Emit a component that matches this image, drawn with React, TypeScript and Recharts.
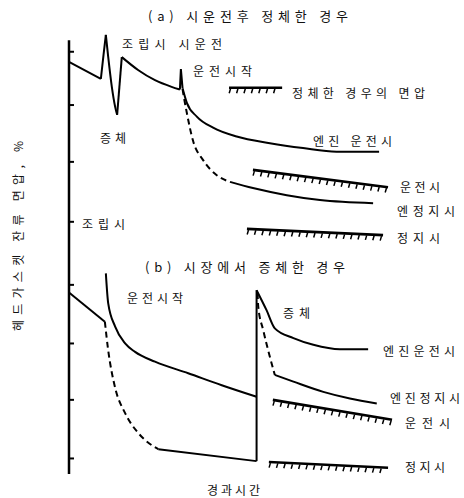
import { Line, LineChart, ReferenceLine, XAxis, YAxis } from "recharts";

// elapsed time (0-100) vs residual surface pressure (0-100), one axis shared by both panels

// (a) re-tightened after the test run
const aAssembled = [[0, 92.8], [9.6, 89.0]];
const aRetightRise = [[9.6, 89.0], [10.4, 94.4], [11.1, 98.9]];
const aRetightDrop = [[11.1, 98.9], [11.8, 94.0], [12.9, 87.2], [13.9, 82.7], [14.5, 80.9]];
const aRetighten = [[14.5, 80.9], [15.9, 93.9]];
const aSettle = [[15.9, 93.9], [20.8, 91.0], [25.9, 88.7], [30.9, 87.2], [33.4, 86.6]];
const aStartSpike = [[33.4, 86.6], [33.7, 91.2], [34.2, 86.9]];
const aEngineRun = [[34.2, 86.9], [35.5, 83.6], [38.5, 80.5], [43.4, 78.0], [50.5, 76.0], [60.5, 74.5], [70.5, 73.4], [80.6, 72.6], [93.4, 72.6]];
const aStopDrop = [[34.2, 86.7], [34.6, 84.9], [35.5, 81.3], [37.3, 75.2], [40.4, 70.7], [44.5, 67.3], [48.5, 65.8]];
const aEngineStop = [[48.5, 65.8], [55.4, 64.4], [65.6, 62.8], [75.6, 61.7], [91.6, 61.0]];

const aLimitKey = [[48.2, 87.0], [64.2, 87.0]];
const aLimitRun = [[55.4, 68.5], [96.1, 64.6]];
const aLimitStop = [[53.6, 55.2], [94.6, 53.8]];

// (b) re-tightened in the field
const bAged = [[0, 40.9], [10.8, 34.3]];
const bStopDrop = [[10.8, 34.3], [11.8, 27.9], [13.8, 19.7], [16.9, 13.7], [20.9, 9.2], [24.9, 6.5], [26.9, 5.6]];
const bStopTail = [[26.9, 5.6], [56.5, 2.9]];
const bRun = [[11.1, 45.2], [11.8, 38.5], [13.9, 33.2], [16.9, 29.4], [19.9, 27.5], [25.9, 25.3], [35.9, 22.7], [46.0, 20.0], [56.5, 17.4]];
const bRetighten = [[56.5, 2.9], [56.5, 41.4]];
const bEngineRun = [[56.5, 41.4], [59.5, 36.9], [62.0, 32.8], [67.6, 30.6], [73.6, 29.1], [81.6, 28.1], [90.1, 28.1]];
const bEngineStopDrop = [[56.8, 40.8], [57.0, 37.7], [58.5, 32.4], [60.5, 26.4], [62.0, 22.3]];
const bEngineStop = [[62.0, 22.3], [67.6, 20.8], [76.6, 18.5], [84.6, 17.0], [92.7, 15.9]];

const bLimitRun = [[61.4, 16.7], [97.3, 12.2]];
const bLimitStop = [[60.2, 2.7], [96.1, 1.4]];

const yTicks = [95.1, 83.1, 70.3, 56.8, 42.6, 29.4, 16.7, 3.5];
const yAxisTop = 97.7;
const tickLen = 1.5;

const toPts = (rows: number[][]) => rows.map(([t, v]) => ({ t, v }));

type Series = { rows: number[][]; curve: "linear" | "monotone"; dashed?: boolean };

const series: Series[] = [
  { rows: aAssembled, curve: "linear" },
  { rows: aRetightRise, curve: "monotone" },
  { rows: aRetightDrop, curve: "monotone" },
  { rows: aRetighten, curve: "linear" },
  { rows: aSettle, curve: "monotone" },
  { rows: aStartSpike, curve: "linear" },
  { rows: aEngineRun, curve: "monotone" },
  { rows: aStopDrop, curve: "monotone", dashed: true },
  { rows: aEngineStop, curve: "monotone" },
  { rows: bAged, curve: "linear" },
  { rows: bStopDrop, curve: "monotone", dashed: true },
  { rows: bStopTail, curve: "linear" },
  { rows: bRun, curve: "monotone" },
  { rows: bRetighten, curve: "linear" },
  { rows: bEngineRun, curve: "monotone" },
  { rows: bEngineStopDrop, curve: "monotone", dashed: true },
  { rows: bEngineStop, curve: "monotone" },
];

const limits = [aLimitKey, aLimitRun, aLimitStop, bLimitRun, bLimitStop];

// text: label, left x, centre y, drawn width
const labels: [string, number, number, number][] = [
  ["(a) 시운전후 정체한 경우", 148, 15, 200],
  ["조립시 시운전", 122, 43, 100],
  ["운전시작", 193, 70, 59],
  ["정체한 경우의 면압", 292, 92, 133],
  ["증체", 100, 137, 26],
  ["엔진 운전시", 313, 140, 79],
  ["운전시", 400, 186, 40],
  ["엔정지시", 397, 210, 58],
  ["정지시", 397, 237, 43],
  ["조립시", 82, 223, 43],
  ["(b) 시장에서 증체한 경우", 145, 266, 200],
  ["운전시작", 127, 297, 56],
  ["증체", 283, 312, 27],
  ["엔진운전시", 383, 350, 72],
  ["엔진정지시", 390, 397, 70],
  ["운전시", 405, 422, 45],
  ["정지시", 405, 466, 40],
  ["경과시간", 207, 489, 53],
];

const FONT = "'Noto Sans CJK KR', 'Noto Sans', sans-serif";

// bold limit line with short slanted hatch strokes hanging under it
function HatchedLine(props: any) {
  const { x1, y1, x2, y2 } = props;
  const dx = x2 - x1;
  const dy = y2 - y1;
  const len = Math.hypot(dx, dy);
  const n = Math.floor(len / 7.4);
  let d = "";
  for (let i = 0; i <= n; i++) {
    const f = (i * 7.4 + 1.5) / len;
    if (f > 1) break;
    const x = x1 + dx * f;
    const y = y1 + dy * f;
    d += `M${x.toFixed(1)},${(y + 1).toFixed(1)}L${(x - 1.3).toFixed(1)},${(y + 5.5).toFixed(1)}`;
  }
  return (
    <g>
      <line x1={x1} y1={y1} x2={x2} y2={y2} stroke="#000" strokeWidth={2.6} />
      <path d={d} stroke="#000" strokeWidth={1.5} fill="none" />
    </g>
  );
}

export default function App() {
  return (
    <div style={{ position: "relative", width: 464, height: 498, background: "#fff" }}>
      <style>{"body{margin:0}"}</style>
      <LineChart width={464} height={498} margin={{ top: 30, right: 63, bottom: 24, left: 69 }}>
        <XAxis
          type="number"
          dataKey="t"
          domain={[0, 100]}
          height={0}
          tick={false}
          tickLine={false}
          axisLine={{ stroke: "#000", strokeWidth: 2.5 }}
        />
        <YAxis type="number" domain={[0, 100]} width={0} tick={false} tickLine={false} axisLine={false} />
        <ReferenceLine
          segment={[{ x: 0, y: 0 }, { x: 0, y: yAxisTop }]}
          stroke="#000"
          strokeWidth={2.5}
        />
        {yTicks.map((v) => (
          <ReferenceLine
            key={`tick-${v}`}
            segment={[{ x: 0, y: v }, { x: tickLen, y: v }]}
            stroke="#000"
            strokeWidth={2}
          />
        ))}
        {limits.map((rows, i) => (
          <ReferenceLine
            key={`lim-${i}`}
            segment={[{ x: rows[0][0], y: rows[0][1] }, { x: rows[1][0], y: rows[1][1] }]}
            shape={HatchedLine}
          />
        ))}
        {series.map((s, i) => (
          <Line
            key={`s-${i}`}
            data={toPts(s.rows)}
            dataKey="v"
            type={s.curve}
            stroke="#000"
            strokeWidth={2}
            strokeDasharray={s.dashed ? "6 4" : undefined}
            dot={false}
            activeDot={false}
            isAnimationActive={false}
          />
        ))}
      </LineChart>
      <svg
        width={464}
        height={498}
        style={{ position: "absolute", left: 0, top: 0, pointerEvents: "none" }}
        fontFamily={FONT}
      >
        {labels.map(([text, x, y, w], i) => (
          <text
            key={i}
            x={x}
            y={y}
            dominantBaseline="central"
            fontSize={i === 0 || i === 10 ? 13 : 12}
            fill="#111"
            textLength={w}
            lengthAdjust="spacing"
          >
            {text}
          </text>
        ))}
        <text
          x={0}
          y={0}
          transform="translate(17,236) rotate(-90)"
          textAnchor="middle"
          dominantBaseline="central"
          fontSize={12}
          fill="#111"
          textLength={190}
          lengthAdjust="spacing"
        >
          헤드가스켓 잔류 면압, %
        </text>
      </svg>
    </div>
  );
}
